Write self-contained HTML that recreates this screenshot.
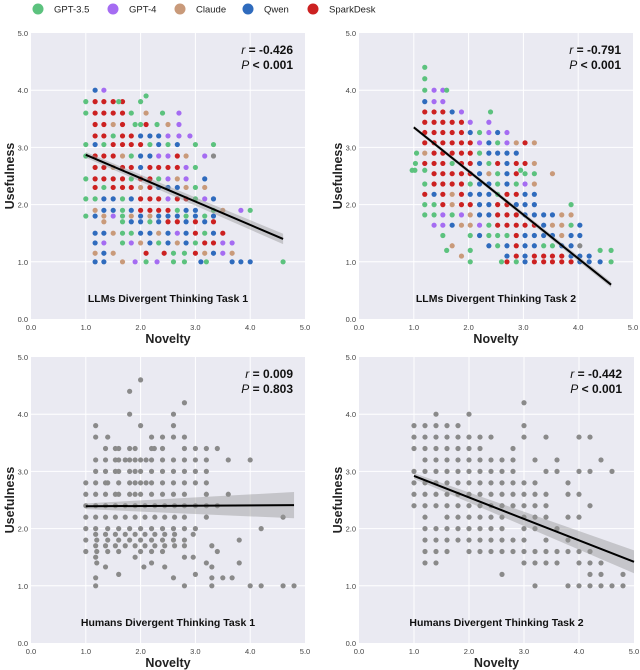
<!DOCTYPE html>
<html><head><meta charset="utf-8">
<style>
html,body{margin:0;padding:0;background:#fff;}
svg{display:block;font-family:"Liberation Sans",Arial,sans-serif;}
</style></head>
<body>
<svg id="fig" width="640" height="670" viewBox="0 0 640 670">
<g id="legend"></g>
</svg>
<script>
const modelNames = ["GPT-3.5","GPT-4","Claude","Qwen","SparkDesk"];
const modelCodes = "gpcbr";
const modelColors = ["#5cc27e","#a56cf2","#c99a7a","#2f6bbd","#cc2121"];
const tickLabels = ["0.0","1.0","2.0","3.0","4.0","5.0"];
const tickValues = [0,1,2,3,4,5];

// LLM task 1: rows of usefulness, novelty lists, model codes
const t1Use = [4.0,3.9,3.8,3.6,3.4,3.2,3.05,2.85,2.65,2.45,2.3,2.1,1.9,1.8,1.7,1.5,1.33,1.15,1.0];
const t1Nov = [
[1.17,1.33],[2.1],[1.0,1.17,1.33,1.5,1.67,1.6,2.0],
[1.0,1.17,1.33,1.5,1.67,1.83,2.1,2.4,2.7],
[1.17,1.33,1.5,1.67,1.9,2.0,2.1,2.3,2.5,2.7],
[1.17,1.33,1.5,1.67,1.83,2.0,2.17,2.33,2.5,2.7,2.9],
[1.0,1.17,1.33,1.5,1.67,1.83,2.0,2.17,2.33,2.5,2.67,3.0,3.33],
[1.0,1.17,1.33,1.5,1.67,1.83,2.0,2.17,2.33,2.5,2.67,2.83,3.17,3.33],
[1.17,1.33,1.5,1.67,1.83,2.0,2.17,2.33,2.5,2.67,2.83,3.0],
[1.0,1.17,1.33,1.5,1.67,1.83,2.0,2.17,2.33,2.5,2.67,2.83,3.17],
[1.17,1.33,1.5,1.67,1.83,2.0,2.17,2.33,2.5,2.67,2.83,3.0,3.17],
[1.0,1.17,1.33,1.5,1.67,1.83,2.0,2.17,2.33,2.5,2.67,2.83,3.0,3.17,3.33],
[1.17,1.33,1.5,1.67,1.83,2.0,2.17,2.33,2.5,2.67,2.83,3.0,3.33,3.5,3.83,4.0],
[1.0,1.17,1.33,1.5,1.67,1.83,2.0,2.17,2.33,2.5,2.67,2.83,3.0,3.17,3.33],
[1.33,1.67,1.83,2.0,2.17,2.33,2.5,2.67,2.83,3.0,3.17,3.33],
[1.17,1.33,1.5,1.67,1.83,2.0,2.17,2.33,2.5,2.67,2.83,3.0,3.17,3.33,3.5],
[1.17,1.33,1.67,1.83,2.0,2.17,2.33,2.5,2.67,2.83,3.0,3.17,3.33,3.5,3.67],
[1.17,1.33,1.5,2.1,2.43,2.6,2.8,3.0,3.17,3.33,3.5,3.67],
[1.17,1.33,1.67,1.9,2.1,2.3,2.6,2.8,3.1,3.2,3.67,3.83,4.0,4.6]];
const t1Mod = ["bp","g","grrrrgg","grrrrgcgp","rrcrggrgcp","rrgrrbbbppp","gbgrrrrgbgbgg","grrrcgbbpprcp","rrcrrbrrrrpg",
"grrrrgrrgpcpb","rgrrrcrbbbcgc","ggbbgbrrrprrgpb","cbbgbrrrrgbbgcpg","gbcpgcbcbbbgbgb","cgbbgbrrbrbr","bbcggbbcbpbrgbr",
"bpgpcbgbcbgrrpp","cbcrrggrcbpc","bbcpgpggbgbbbg"];
const t1Fit = [1.0,2.87,4.6,1.4];
const t1Ci = [0.05,0.09];

// LLM task 2
const t2Use = [4.4,4.2,4.0,3.8,3.62,3.44,3.26,3.08,2.9,2.72,2.6,2.54,2.36,2.18,2.0,1.82,1.64,1.46,1.28,1.2,1.1,1.0];
const t2Nov = [
[1.2],[1.2],[1.2,1.37,1.53,1.6],[1.2,1.37,1.53],
[1.2,1.37,1.53,1.7,1.87,2.4],
[1.2,1.37,1.53,1.7,1.87,2.03,2.37],
[1.2,1.37,1.53,1.7,1.87,2.03,2.2,2.37,2.53,2.7],
[1.2,1.37,1.53,1.7,1.87,2.03,2.2,2.37,2.53,2.7,2.87,3.03,3.2],
[1.05,1.2,1.37,1.53,1.7,1.87,2.03,2.2,2.37,2.53,2.7,2.87],
[1.03,1.2,1.37,1.53,1.7,1.87,2.03,2.2,2.37,2.53,2.7,2.87,3.03,3.2],
[0.97,1.02,1.2,2.95],
[1.37,1.53,1.7,1.87,2.03,2.2,2.37,2.53,2.7,2.87,3.03,3.2,3.53],
[1.2,1.37,1.53,1.7,1.87,2.03,2.2,2.37,2.53,2.7,2.87,3.03,3.2],
[1.2,1.37,1.53,1.7,1.87,2.03,2.2,2.37,2.53,2.7,2.87,3.03,3.2],
[1.2,1.37,1.53,1.7,1.87,2.03,2.2,2.37,2.53,2.7,2.87,3.03,3.2,3.87],
[1.2,1.37,1.53,1.7,1.87,2.03,2.2,2.37,2.53,2.7,2.87,3.03,3.2,3.37,3.53,3.7,3.87],
[1.37,1.53,1.7,1.87,2.03,2.2,2.37,2.53,2.7,2.87,3.03,3.2,3.37,3.53,3.7,3.87,4.03],
[1.53,2.03,2.2,2.37,2.53,2.7,2.87,3.03,3.2,3.37,3.53,3.7,3.87,4.03],
[1.7,2.37,2.53,2.7,2.87,3.03,3.2,3.37,3.53,3.7,3.87,4.03],
[1.6,2.03,4.4,4.6],
[1.87,2.7,2.87,3.03,3.2,3.37,3.53,3.7,3.87,4.03,4.2],
[2.03,2.6,2.7,2.87,3.03,3.2,3.37,3.53,3.7,3.87,4.03,4.2,4.4,4.6]];
const t2Mod = ["g","g","gppg","bpp","rrrbpg","rrrrrpp","rrrrrbgpbp","rrrrrrpbgpcrc","gcrrrrrgbbbb","grrrgrrbgrbrrc","gggg",
"rrrrrbcgbrggc","grrrrgbbgbgpc","rbrcrbbbgrrbb","ggrcrrbbrrbbbg","ggpgpcbbrrrbbbbcc","ppbccpgrrrrrbccgb","ggbgggrbbbbcbb",
"cbgbrbbggbb","gggg","cbrbrrrrbbb","ggrgbrrrrrbbbg"];
const t2Fit = [1.0,3.35,4.6,0.6];
const t2Ci = [0.03,0.05];

// Humans task 1
const h1Use = [4.6,4.4,4.2,4.0,3.8,3.6,3.4,3.2,3.0,2.8,2.6,2.4,2.2,2.0,1.9,1.8,1.7,1.6,1.5,1.4,1.33,1.2,1.14,1.0];
const h1Nov = [
[2.0],[1.8],[2.8],[1.8,2.6],[1.18,2.0,2.6],[1.18,1.4,2.2,2.4,2.6,2.8],
[1.36,1.54,1.6,1.8,1.9,2.2,2.25,2.4,2.8,3.0,3.2,3.4],
[1.18,1.36,1.54,1.6,1.72,1.8,1.9,2.0,2.1,2.2,2.4,2.6,2.8,3.0,3.2,3.6,4.0],
[1.18,1.36,1.54,1.6,1.8,1.9,2.0,2.2,2.4,2.6,2.8,3.0,3.2],
[1.0,1.18,1.36,1.4,1.6,1.8,1.9,2.0,2.1,2.2,2.4,2.6,2.8,3.0,3.2],
[1.0,1.18,1.36,1.54,1.6,1.8,1.9,2.0,2.2,2.4,2.6,2.8,3.2,3.6],
[1.0,1.18,1.36,1.54,1.72,1.9,2.08,2.26,2.44,2.62,2.8,3.0,3.2,3.4],
[1.0,1.18,1.36,1.54,1.72,1.9,2.08,2.26,2.44,2.62,2.8,3.2,4.6],
[1.0,1.18,1.4,1.6,1.8,2.0,2.2,2.4,2.6,2.8,3.0,4.2],
[1.18,1.36,1.54,1.72,1.9,2.08,2.26,2.44,2.62,2.96],
[1.0,1.2,1.4,1.6,1.8,2.0,2.2,2.4,2.6,2.8,3.8],
[1.18,1.36,1.54,1.72,1.9,2.08,2.26,2.44,2.62,2.8,3.3],
[1.0,1.2,1.4,1.6,2.0,2.2,2.4,3.4],
[1.18,1.9,2.8,2.96],[1.2,2.2,3.2,3.8],[1.36,2.06,2.44,3.3],[1.6,3.0],
[1.18,2.6,3.3,3.5,3.67],[1.18,2.8,3.3,4.0,4.2,4.6,4.8]];
const h1Fit = [1.0,2.39,4.8,2.41];
const h1Ci = [0.05,0.23];

// Humans task 2
const h2Use = [4.2,4.0,3.8,3.6,3.4,3.2,3.0,2.8,2.6,2.4,2.2,2.0,1.8,1.6,1.4,1.2,1.0];
const h2Nov = [
[3.0],[1.4,2.0],[1.0,1.2,1.4,1.6,1.8,3.0],
[1.0,1.2,1.4,1.6,1.8,2.0,2.2,2.4,3.0,3.4,4.0,4.2],
[1.0,1.2,1.4,1.6,1.8,2.0,2.2,2.8],
[1.2,1.4,1.6,1.8,2.0,2.2,2.4,2.6,2.8,3.2,3.6,4.4],
[1.0,1.2,1.4,1.6,1.8,2.0,2.2,2.4,2.6,2.8,3.4,3.6,4.0,4.2,4.6],
[1.0,1.2,1.4,1.6,1.8,2.0,2.2,2.4,2.6,2.8,3.0,3.2,3.8],
[1.0,1.2,1.4,1.6,1.8,2.0,2.2,2.4,2.6,2.8,3.0,3.2,3.4,3.8,4.0],
[1.0,1.2,1.4,1.6,1.8,2.0,2.2,2.4,2.6,2.8,3.0,3.2,3.4,4.2],
[1.2,1.6,1.8,2.0,2.2,2.4,2.6,3.0,3.2,3.4,3.8,4.0],
[1.2,1.4,1.6,1.8,2.0,2.2,2.4,2.6,3.0,3.2,3.6],
[1.2,1.4,1.6,1.8,2.0,2.2,2.4,2.6,2.8,3.0,3.4,3.8],
[1.2,1.4,1.6,2.0,2.2,2.4,2.6,2.8,3.0,3.2,3.4,3.6,3.8,4.0,4.2],
[1.2,1.4,3.0,3.2,3.4,3.6,4.0,4.2,4.4],
[2.6,4.2,4.4,4.8],[3.2,3.8,4.0,4.2,4.4,4.6,4.8]];
const h2Fit = [1.0,2.92,5.0,1.42];
const h2Ci = [0.05,0.2];

const NS = "http://www.w3.org/2000/svg";
const svg = document.getElementById("fig");
function mk(tag, attrs, parent){
  const e = document.createElementNS(NS, tag);
  for (const k in attrs) e.setAttribute(k, attrs[k]);
  (parent||svg).appendChild(e);
  return e;
}

// legend
const legX = [38,113,180,248,313];
const leg = document.getElementById("legend");
modelNames.forEach((n,i)=>{
  const c = mk("circle",{cx:legX[i],cy:9,r:5.5,fill:modelColors[i]},leg);
  
  
  const t = mk("text",{x:legX[i]+16,y:12.5,"font-size":9.5,fill:"#222"},leg);
  t.textContent = n;
  
  
});

function panel(o){
  const g = mk("g",{});
  
  
  const X = v => o.x0 + (o.x1-o.x0)*v/5;
  const Y = v => o.y1 - (o.y1-o.y0)*v/5;
  const bg = mk("rect",{x:o.x0,y:o.y0,width:o.x1-o.x0,height:o.y1-o.y0,fill:"#eaeaf2"},g);
  
  
  tickValues.forEach((v,i)=>{
    if (v>0 && v<5){
      mk("line",{x1:X(v),x2:X(v),y1:o.y0,y2:o.y1,stroke:"#fff","stroke-width":1},g);
      mk("line",{x1:o.x0,x2:o.x1,y1:Y(v),y2:Y(v),stroke:"#fff","stroke-width":1},g);
    }
    const tx = mk("text",{x:X(v),y:o.y1+11,"font-size":7.5,fill:"#444","text-anchor":"middle"},g);
    tx.textContent = tickLabels[i];
    
    
    const ty = mk("text",{x:o.x0-3,y:Y(v)+3,"font-size":7.5,fill:"#444","text-anchor":"end"},g);
    ty.textContent = tickLabels[i];
    
    
  });
  // points
  o.use.forEach((u,ri)=>{
    o.nov[ri].forEach((n,ci)=>{
      let col = "#8a8a8a";
      if (o.mod){ col = modelColors[modelCodes.indexOf(o.mod[ri][ci])] || "#8a8a8a"; }
      const p = mk("circle",{cx:X(n),cy:Y(u),r:2.6,fill:col},g);
      
      
    });
  });
  // CI band
  const f = o.fit, ci = o.ci;
  const band = mk("polygon",{points:[
    [X(f[0]),Y(f[1]+ci[0])],[X(f[2]),Y(f[3]+ci[1])],[X(f[2]),Y(f[3]-ci[1])],[X(f[0]),Y(f[1]-ci[0])]
  ].map(p=>p.join(",")).join(" "),fill:"#9a9a9a","fill-opacity":0.45},g);
  
  
  const ln = mk("line",{x1:X(f[0]),y1:Y(f[1]),x2:X(f[2]),y2:Y(f[3]),stroke:"#000","stroke-width":2},g);
  
  
  // annotation
  const a1 = mk("text",{x:o.x1-12,y:o.y0+21,"font-size":12,"font-weight":"bold",fill:"#111","text-anchor":"end"},g);
  a1.innerHTML = '<tspan font-style="italic" font-weight="normal">r</tspan> = '+o.r;
  
  
  const a2 = mk("text",{x:o.x1-12,y:o.y0+36,"font-size":12,"font-weight":"bold",fill:"#111","text-anchor":"end"},g);
  a2.innerHTML = '<tspan font-style="italic" font-weight="normal">P</tspan> '+o.p;
  
  
  const tt = mk("text",{x:(o.x0+o.x1)/2,y:o.y1-17,"font-size":10.5,"font-weight":"bold",fill:"#111","text-anchor":"middle"},g);
  tt.textContent = o.title;
  
  
  const xl = mk("text",{x:(o.x0+o.x1)/2,y:o.y1+24,"font-size":12.5,"font-weight":"bold",fill:"#222","text-anchor":"middle"},g);
  xl.textContent = "Novelty";
  
  
  const cy = (o.y0+o.y1)/2, cx = o.x0-17;
  const yl = mk("text",{x:cx,y:cy,"font-size":12.5,"font-weight":"bold",fill:"#222","text-anchor":"middle",transform:`rotate(-90 ${cx} ${cy})`},g);
  yl.textContent = "Usefulness";
  
  
}

panel({name:"panel-llm-task1",x0:31,x1:305,y0:33,y1:319,use:t1Use,nov:t1Nov,mod:t1Mod,fit:t1Fit,ci:t1Ci,r:"-0.426",p:"< 0.001",title:"LLMs Divergent Thinking Task 1"});
panel({name:"panel-llm-task2",x0:359,x1:633,y0:33,y1:319,use:t2Use,nov:t2Nov,mod:t2Mod,fit:t2Fit,ci:t2Ci,r:"-0.791",p:"< 0.001",title:"LLMs Divergent Thinking Task  2"});
panel({name:"panel-humans-task1",x0:31,x1:305,y0:357,y1:643,use:h1Use,nov:h1Nov,mod:null,fit:h1Fit,ci:h1Ci,r:"0.009",p:"= 0.803",title:"Humans Divergent Thinking Task 1"});
panel({name:"panel-humans-task2",x0:359,x1:634,y0:357,y1:643,use:h2Use,nov:h2Nov,mod:null,fit:h2Fit,ci:h2Ci,r:"-0.442",p:"< 0.001",title:"Humans Divergent Thinking Task 2"});
</script>
</body></html>
